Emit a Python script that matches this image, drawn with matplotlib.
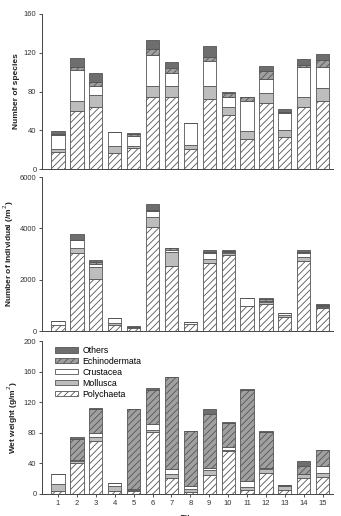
import matplotlib
matplotlib.use("Agg")
import matplotlib.pyplot as plt
import numpy as np

plt.rcParams['font.family'] = ['Liberation Sans', 'DejaVu Sans']
plt.rcParams['hatch.linewidth'] = 0.6
plt.rcParams['hatch.color'] = '#555555'

sites = list(range(1, 16))
groups = ["Polychaeta", "Mollusca", "Crustacea", "Echinodermata", "Others"]

# number of species
sp_poly = [18, 60, 64, 17, 22, 74, 74, 21, 72, 56, 31, 68, 33, 64, 70]
sp_moll = [3, 10, 12, 7, 2, 12, 12, 4, 14, 8, 8, 10, 7, 10, 14]
sp_crus = [14, 32, 10, 14, 10, 32, 13, 22, 26, 10, 31, 15, 18, 31, 21]
sp_echi = [1, 3, 4, 0, 2, 6, 5, 0, 4, 4, 4, 8, 1, 2, 8]
sp_othe = [3, 10, 9, 0, 1.5, 9.5, 6, 0, 11, 2, 0, 5, 2.5, 7, 6]

# number of individuals (/m2)
in_poly = [220, 3030, 2010, 250, 130, 4070, 2550, 270, 2630, 2980, 960, 1050, 560, 2730, 880]
in_moll = [20, 210, 500, 50, 10, 380, 520, 20, 180, 60, 30, 80, 50, 160, 50]
in_crus = [160, 290, 90, 220, 10, 210, 80, 70, 210, 40, 300, 40, 110, 160, 30]
in_echi = [0, 30, 100, 0, 20, 50, 70, 0, 40, 40, 0, 60, 0, 40, 60]
in_othe = [0, 220, 60, 0, 20, 230, 30, 10, 80, 40, 0, 70, 0, 50, 50]

# wet weight (g/m2)
ww_poly = [3.5, 40, 69, 3.5, 4, 81, 21, 3, 25, 56, 5.5, 27, 5, 21.5, 22]
ww_moll = [9, 3, 6, 7, 1, 3, 5, 4, 7, 2, 4, 6, 5, 4, 5]
ww_crus = [13.5, 1, 5, 3.5, 1, 7, 7, 4, 2, 4, 7, 1, 1, 0.5, 10]
ww_echi = [0, 28, 31.5, 0, 105, 45, 120, 71.5, 71, 31, 120, 47, 0.5, 10, 20]
ww_othe = [0, 2, 1.5, 0, 0.5, 2, 0.5, 0, 5.5, 0.5, 0.5, 1, 0.5, 6.5, 1]

styles = [
    dict(facecolor='white', hatch='/////'),
    dict(facecolor='#bdbdbd'),
    dict(facecolor='white'),
    dict(facecolor='#a0a0a0', hatch='/////'),
    dict(facecolor='#6e6e6e'),
]

panels = [
    ([sp_poly, sp_moll, sp_crus, sp_echi, sp_othe], "Number of species", 160, 40),
    ([in_poly, in_moll, in_crus, in_echi, in_othe], "Number of individual (/m$^2$)", 6000, 2000),
    ([ww_poly, ww_moll, ww_crus, ww_echi, ww_othe], "Wet weight (g/m$^2$)", 200, 40),
]

fig = plt.figure(figsize=(3.41, 5.16), dpi=100)
W, H = 341, 516
boxes = [(14, 169), (177, 331), (341, 494)]

for i, (series, ylabel, ymax, step) in enumerate(panels):
    top, bot = boxes[i]
    ax = fig.add_axes([42 / W, 1 - bot / H, (333 - 42) / W, (bot - top) / H])
    bottom = np.zeros(len(sites))
    handles = []
    for vals, st, name in zip(series, styles, groups):
        b = ax.bar(sites, vals, width=0.7, bottom=bottom, edgecolor='#555555',
                   linewidth=0.6, label=name, **st)
        handles.append(b)
        bottom += np.array(vals)
    ax.set_xlim(0.15, 15.55)
    ax.set_ylim(0, ymax)
    ax.set_yticks(np.arange(0, ymax + 1, step))
    ax.spines['top'].set_visible(False)
    ax.spines['right'].set_visible(False)
    for s in ['left', 'bottom']:
        ax.spines[s].set_linewidth(0.7)
        ax.spines[s].set_color('#444444')
    ax.tick_params(axis='y', labelsize=5.5, length=2.5, width=0.6, pad=1.5, colors='#333333')
    ax.set_ylabel(ylabel, fontsize=6, fontweight='bold', labelpad=3, color='#222222')
    if i < 2:
        ax.tick_params(axis='x', bottom=False, labelbottom=False)
    else:
        ax.set_xticks(sites)
        ax.tick_params(axis='x', labelsize=5.5, length=2, width=0.6, pad=2, colors='#333333')
        ax.set_xlabel("Site", fontsize=6, fontweight='bold', labelpad=6)
        ax.legend(handles[::-1], groups[::-1], loc='upper left', fontsize=6.3,
                  frameon=False, handlelength=2.6, handleheight=0.6,
                  labelspacing=0.22, handletextpad=0.5,
                  bbox_to_anchor=(0.018, 1.02))

fig.savefig("out.png", dpi=100)
